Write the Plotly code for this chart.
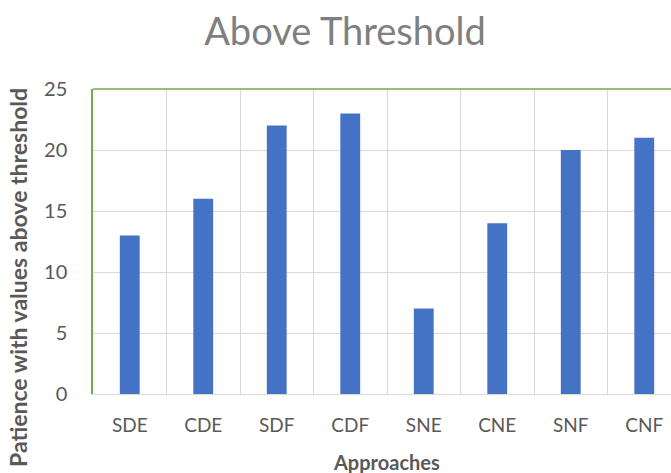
import plotly.graph_objects as go

categories = ["SDE", "CDE", "SDF", "CDF", "SNE", "CNE", "SNF", "CNF"]
values = [13, 16, 22, 23, 7, 14, 20, 21]
y_ticks = [0, 5, 10, 15, 20, 25]

title_text = "Above Threshold"
x_title = "Approaches"
y_title = "Patience with values above threshold"

FONT = "Lato, 'Open Sans', sans-serif"
GRID = "#d9d9d9"
GREEN = "#70ad47"

fig = go.Figure(go.Bar(
    x=categories, y=values,
    marker=dict(color="#4472c4", line=dict(width=0)),
    width=0.27,
))

fig.update_layout(
    width=671, height=473,
    margin=dict(l=93, r=0, t=89, b=79),
    paper_bgcolor="white", plot_bgcolor="white",
    showlegend=False,
    font=dict(family=FONT, color="#595959"),
    title=dict(text=title_text, x=345 / 671, xanchor="center", y=1 - 32/473, yanchor="middle",
               font=dict(size=38, color="#7f7f7f", family=FONT)),
)

fig.update_xaxes(
    type="category", range=[-0.5, -0.5 + 578/73.5],
    tickson="boundaries", showgrid=True, gridcolor=GRID, gridwidth=1,
    showline=True, linecolor=GRID, linewidth=1,
    ticks="", ticklabelstandoff=14,
    tickfont=dict(size=19, color="#595959", family=FONT),
    zeroline=False,
)
fig.update_yaxes(
    range=[0, 25], tickvals=y_ticks,
    showgrid=True, gridcolor=GRID, gridwidth=1,
    showline=True, linecolor=GREEN, linewidth=1.5,
    ticks="", ticklabelstandoff=20,
    tickfont=dict(size=20, color="#595959", family=FONT),
    zeroline=False,
)

# top border of plot area
fig.add_shape(type="line", xref="paper", yref="paper", x0=0, x1=1, y0=1, y1=1,
              line=dict(color=GREEN, width=1.5))

fig.add_annotation(text="<b>" + x_title + "</b>", xref="paper", yref="paper",
                   x=(386 - 93) / 578, y=-(462 - 394) / 305, showarrow=False,
                   xanchor="center", yanchor="middle",
                   font=dict(size=20, color="#595959", family=FONT))
fig.add_annotation(text="<b>" + y_title + "</b>", xref="paper", yref="paper",
                   x=-(93 - 18) / 578, y=(394 - 278) / 305, showarrow=False,
                   xanchor="center", yanchor="middle", textangle=-90,
                   font=dict(size=23, color="#595959", family=FONT))

fig.write_html("out.html", config={"displayModeBar": False},
               post_script="document.body.style.margin='0';")
